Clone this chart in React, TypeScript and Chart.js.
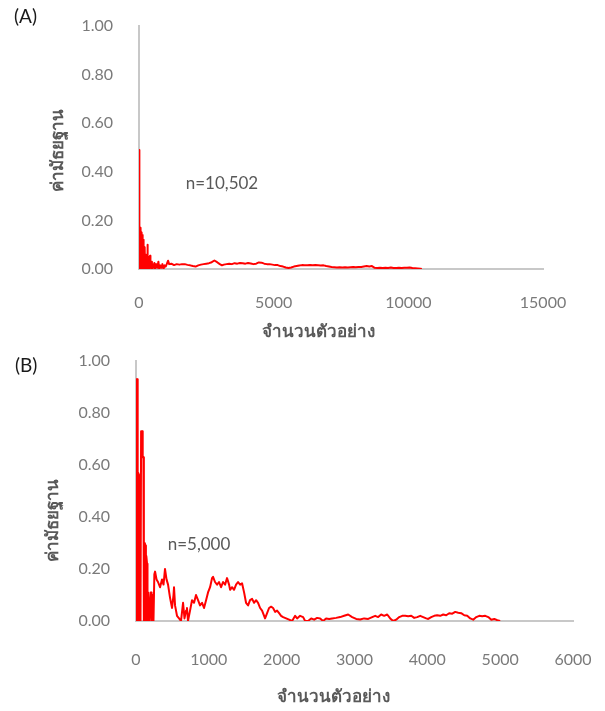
import { useEffect, useRef } from "react";
import { Chart, registerables } from "chart.js";

Chart.register(...registerables);

// Axis titles and labels
const yTitle = "ค่ามัธยฐาน";
const xTitle = "จำนวนตัวอย่าง";
const tagA = "(A)";
const tagB = "(B)";
const noteA = "n=10,502";
const noteB = "n=5,000";

// Axis ranges / tick steps
const yMax = 1.0;
const yStep = 0.2;
const xMaxA = 15000;
const xStepA = 5000;
const xMaxB = 6000;
const xStepB = 1000;

// Where the sample-size notes sit, in data units [samples, median]
const noteAtA = [3080, 0.352];
const noteAtB = [865, 0.293];

// Panel A: running median against number of samples (n = 10,502)
const samplesA = [
  0, 3, 10, 14, 20, 24, 40, 48, 56, 70,
  78, 86, 100, 108, 116, 130, 140, 150, 160, 170,
  180, 190, 205, 215, 225, 240, 255, 270, 285, 300,
  315, 325, 340, 360, 380, 395, 410, 425, 450, 480,
  510, 540, 570, 600, 640, 680, 720, 750, 790, 830,
  870, 910, 950, 990, 1030, 1080, 1120, 1200, 1300, 1400,
  1500, 1600, 1700, 1800, 1900, 2000, 2100, 2200, 2300, 2400,
  2500, 2600, 2700, 2800, 2900, 3000, 3080, 3150, 3250, 3350,
  3450, 3550, 3650, 3750, 3850, 3950, 4050, 4150, 4250, 4350,
  4450, 4550, 4650, 4750, 4850, 4950, 5050, 5150, 5250, 5350,
  5450, 5550, 5650, 5750, 5850, 5950, 6050, 6150, 6250, 6350,
  6450, 6550, 6650, 6750, 6850, 6950, 7050, 7150, 7250, 7350,
  7450, 7550, 7650, 7750, 7850, 7950, 8050, 8150, 8250, 8350,
  8450, 8550, 8650, 8750, 8850, 8950, 9050, 9150, 9250, 9350,
  9450, 9550, 9650, 9750, 9850, 9950, 10050, 10150, 10250, 10350,
  10450, 10502,
];
const medianA = [
  0.0, 0.49, 0.49, 0.0, 0.0, 0.17, 0.17, 0.05, 0.16, 0.17,
  0.0, 0.15, 0.14, 0.02, 0.14, 0.13, 0.0, 0.12, 0.05, 0.1,
  0.0, 0.08, 0.03, 0.09, 0.0, 0.06, 0.01, 0.05, 0.0, 0.04,
  0.1, 0.0, 0.03, 0.01, 0.05, 0.0, 0.055, 0.005, 0.03, 0.0,
  0.02, 0.005, 0.025, 0.0, 0.02, 0.005, 0.03, 0.0, 0.015, 0.005,
  0.02, 0.0, 0.015, 0.01, 0.02, 0.034, 0.02, 0.022, 0.016, 0.02,
  0.018, 0.02, 0.02, 0.017, 0.015, 0.012, 0.01, 0.015, 0.018, 0.02,
  0.022, 0.024, 0.028, 0.035, 0.028, 0.02, 0.015, 0.018, 0.02, 0.022,
  0.02, 0.024, 0.022, 0.025, 0.024, 0.022, 0.025, 0.023, 0.02, 0.022,
  0.027, 0.026, 0.022, 0.02, 0.02, 0.018, 0.016, 0.016, 0.012, 0.01,
  0.006, 0.004, 0.006, 0.01, 0.012, 0.014, 0.016, 0.015, 0.015, 0.016,
  0.015, 0.016, 0.015, 0.014, 0.015, 0.012, 0.01, 0.008, 0.007, 0.006,
  0.007, 0.006, 0.007, 0.006, 0.007, 0.008, 0.007, 0.008, 0.008, 0.01,
  0.012, 0.01, 0.012, 0.005, 0.004, 0.005, 0.004, 0.005, 0.004, 0.006,
  0.004, 0.004, 0.005, 0.004, 0.005, 0.005, 0.006, 0.004, 0.003, 0.002,
  0.001, 0.0,
];

// Panel B: running median against number of samples (n = 5,000)
const samplesB = [
  0, 8, 16, 20, 26, 30, 44, 50, 62, 70,
  84, 92, 102, 108, 114, 120, 130, 136, 142, 152,
  158, 166, 178, 184, 192, 200, 206, 214, 222, 230,
  240, 252, 262, 282, 302, 330, 357, 378, 398, 419,
  440, 467, 495, 515, 522, 536, 563, 591, 618, 646,
  666, 687, 700, 714, 742, 769, 797, 824, 852, 879,
  907, 934, 962, 989, 1017, 1044, 1058, 1085, 1113, 1140,
  1168, 1195, 1223, 1250, 1278, 1292, 1319, 1346, 1374, 1401,
  1429, 1456, 1484, 1511, 1539, 1566, 1594, 1621, 1649, 1676,
  1704, 1731, 1759, 1772, 1800, 1827, 1855, 1882, 1910, 1937,
  1965, 1992, 2020, 2061, 2102, 2143, 2185, 2212, 2253, 2295,
  2322, 2363, 2405, 2446, 2487, 2528, 2569, 2610, 2652, 2693,
  2748, 2803, 2858, 2913, 2968, 3023, 3078, 3133, 3188, 3243,
  3284, 3325, 3366, 3407, 3449, 3490, 3531, 3572, 3614, 3655,
  3696, 3737, 3779, 3820, 3861, 3902, 3943, 3985, 4012, 4053,
  4094, 4135, 4177, 4218, 4259, 4300, 4342, 4383, 4424, 4465,
  4507, 4548, 4589, 4630, 4672, 4713, 4754, 4795, 4837, 4878,
  4919, 4960, 5000,
];
const medianB = [
  0.0, 0.93, 0.93, 0.0, 0.0, 0.57, 0.56, 0.0, 0.0, 0.73,
  0.73, 0.63, 0.63, 0.0, 0.0, 0.3, 0.29, 0.0, 0.25, 0.22,
  0.0, 0.11, 0.11, 0.0, 0.0, 0.11, 0.11, 0.0, 0.1, 0.0,
  0.0, 0.18, 0.19, 0.16, 0.15, 0.13, 0.16, 0.14, 0.2, 0.16,
  0.14, 0.09, 0.05, 0.1, 0.13, 0.06, 0.02, 0.01, 0.0, 0.07,
  0.01, 0.04, 0.05, 0.0, 0.04, 0.08, 0.07, 0.1, 0.08, 0.06,
  0.07, 0.05, 0.08, 0.11, 0.13, 0.165, 0.17, 0.15, 0.14, 0.15,
  0.13, 0.15, 0.14, 0.165, 0.14, 0.12, 0.13, 0.12, 0.14, 0.15,
  0.14, 0.145, 0.11, 0.07, 0.06, 0.08, 0.085, 0.07, 0.08, 0.07,
  0.05, 0.04, 0.02, 0.01, 0.03, 0.05, 0.055, 0.05, 0.035, 0.04,
  0.03, 0.02, 0.015, 0.01, 0.005, 0.0, 0.02, 0.01, 0.02, 0.015,
  0.0, 0.0, 0.01, 0.005, 0.012, 0.01, 0.0, 0.01, 0.008, 0.01,
  0.012, 0.015, 0.02, 0.025, 0.015, 0.008, 0.006, 0.01, 0.008, 0.015,
  0.02, 0.015, 0.025, 0.02, 0.025, 0.01, 0.0, 0.005, 0.015, 0.02,
  0.02, 0.018, 0.02, 0.012, 0.015, 0.02, 0.015, 0.01, 0.008, 0.015,
  0.02, 0.022, 0.02, 0.025, 0.022, 0.03, 0.028, 0.035, 0.032, 0.03,
  0.022, 0.02, 0.01, 0.005, 0.015, 0.02, 0.018, 0.02, 0.015, 0.005,
  0.008, 0.003, 0.0,
];

const FONT = "Lato, 'Noto Sans', 'DejaVu Sans', sans-serif";
const TICK_COLOR = "#7a7a7a";
const TEXT_COLOR = "#595959";
const AXIS_COLOR = "#c8c8c8";
const LINE_COLOR = "#ff0000";

type PanelSpec = {
  samples: number[];
  median: number[];
  xMax: number;
  xStep: number;
  tag: string;
  note: string;
  noteAt: number[];
  width: number;
  height: number;
  area: { left: number; top: number; right: number; bottom: number };
  xTickPad: number;
  tagPos: [number, number];
  xTitlePos: [number, number];
  yTitlePos: [number, number];
};

function makeOverlay(spec: PanelSpec) {
  return {
    id: "panelText",
    afterDraw(chart: any) {
      const ctx: CanvasRenderingContext2D = chart.ctx;
      const xs = chart.scales.x;
      const ys = chart.scales.y;
      ctx.save();
      ctx.textBaseline = "middle";

      // panel tag
      ctx.font = `19px ${FONT}`;
      ctx.fillStyle = "#1a1a1a";
      ctx.textAlign = "left";
      ctx.fillText(spec.tag, spec.tagPos[0], spec.tagPos[1]);

      // sample-size note
      ctx.font = `17px ${FONT}`;
      ctx.fillStyle = TEXT_COLOR;
      ctx.textAlign = "center";
      ctx.fillText(
        spec.note,
        xs.getPixelForValue(spec.noteAt[0]),
        ys.getPixelForValue(spec.noteAt[1])
      );

      // axis titles
      ctx.font = `bold 17px ${FONT}`;
      ctx.fillText(xTitle, spec.xTitlePos[0], spec.xTitlePos[1]);
      ctx.translate(spec.yTitlePos[0], spec.yTitlePos[1]);
      ctx.rotate(-Math.PI / 2);
      ctx.fillText(yTitle, 0, 0);
      ctx.restore();
    },
  };
}

// Drop the label-overflow padding so the plot area follows layout.padding exactly
function noOverflow(scale: any) {
  scale.paddingTop = 0;
  scale.paddingBottom = 0;
  scale.paddingLeft = 0;
  scale.paddingRight = 0;
}

function buildChart(canvas: HTMLCanvasElement, spec: PanelSpec) {
  const points = spec.samples.map((n, i) => ({ x: n, y: spec.median[i] }));
  return new Chart(canvas, {
    type: "line",
    data: {
      datasets: [
        {
          data: points,
          borderColor: LINE_COLOR,
          borderWidth: 2,
          pointRadius: 0,
          tension: 0,
          borderJoinStyle: "round",
          fill: false,
        },
      ],
    },
    options: {
      animation: false,
      responsive: false,
      maintainAspectRatio: false,
      layout: {
        padding: {
          left: 0,
          top: spec.area.top,
          right: spec.width - spec.area.right,
          bottom: 0,
        },
      },
      plugins: {
        legend: { display: false },
        tooltip: { enabled: false },
        title: { display: false },
      },
      scales: {
        x: {
          type: "linear",
          min: 0,
          max: spec.xMax,
          grid: { display: false, drawTicks: false },
          border: { display: true, color: AXIS_COLOR, width: 2 },
          ticks: {
            stepSize: spec.xStep,
            padding: spec.xTickPad,
            color: TICK_COLOR,
            font: { family: FONT, size: 16 },
            maxRotation: 0,
            callback: (v: any) => String(v),
          },
          afterFit: (scale: any) => {
            scale.height = spec.height - spec.area.bottom;
            noOverflow(scale);
          },
        },
        y: {
          type: "linear",
          min: 0,
          max: yMax,
          grid: { display: false, drawTicks: false },
          border: { display: true, color: AXIS_COLOR, width: 2 },
          ticks: {
            stepSize: yStep,
            padding: 26,
            color: TICK_COLOR,
            font: { family: FONT, size: 16 },
            callback: (v: any) => Number(v).toFixed(2),
          },
          afterFit: (scale: any) => {
            scale.width = spec.area.left;
            noOverflow(scale);
          },
        },
      },
    },
    plugins: [makeOverlay(spec)],
  } as any);
}

const panelA: PanelSpec = {
  samples: samplesA,
  median: medianA,
  xMax: xMaxA,
  xStep: xStepA,
  tag: tagA,
  note: noteA,
  noteAt: noteAtA,
  width: 605,
  height: 350,
  area: { left: 139, top: 26, right: 543, bottom: 269 },
  xTickPad: 24,
  tagPos: [14, 17],
  xTitlePos: [318, 332],
  yTitlePos: [58, 150],
};

const panelB: PanelSpec = {
  samples: samplesB,
  median: medianB,
  xMax: xMaxB,
  xStep: xStepB,
  tag: tagB,
  note: noteB,
  noteAt: noteAtB,
  width: 605,
  height: 361,
  area: { left: 136, top: 11, right: 573, bottom: 271 },
  xTickPad: 29,
  tagPos: [15, 16],
  xTitlePos: [333, 347],
  yTitlePos: [53, 170],
};

export default function App() {
  const refA = useRef<HTMLCanvasElement>(null);
  const refB = useRef<HTMLCanvasElement>(null);

  useEffect(() => {
    const a = buildChart(refA.current!, panelA);
    const b = buildChart(refB.current!, panelB);
    return () => {
      a.destroy();
      b.destroy();
    };
  }, []);

  return (
    <div
      style={{
        position: "absolute",
        left: 0,
        top: 0,
        width: 605,
        height: 711,
        background: "#ffffff",
      }}
    >
      <canvas
        ref={refA}
        width={panelA.width}
        height={panelA.height}
        style={{ position: "absolute", left: 0, top: 0 }}
      />
      <canvas
        ref={refB}
        width={panelB.width}
        height={panelB.height}
        style={{ position: "absolute", left: 0, top: 350 }}
      />
    </div>
  );
}
